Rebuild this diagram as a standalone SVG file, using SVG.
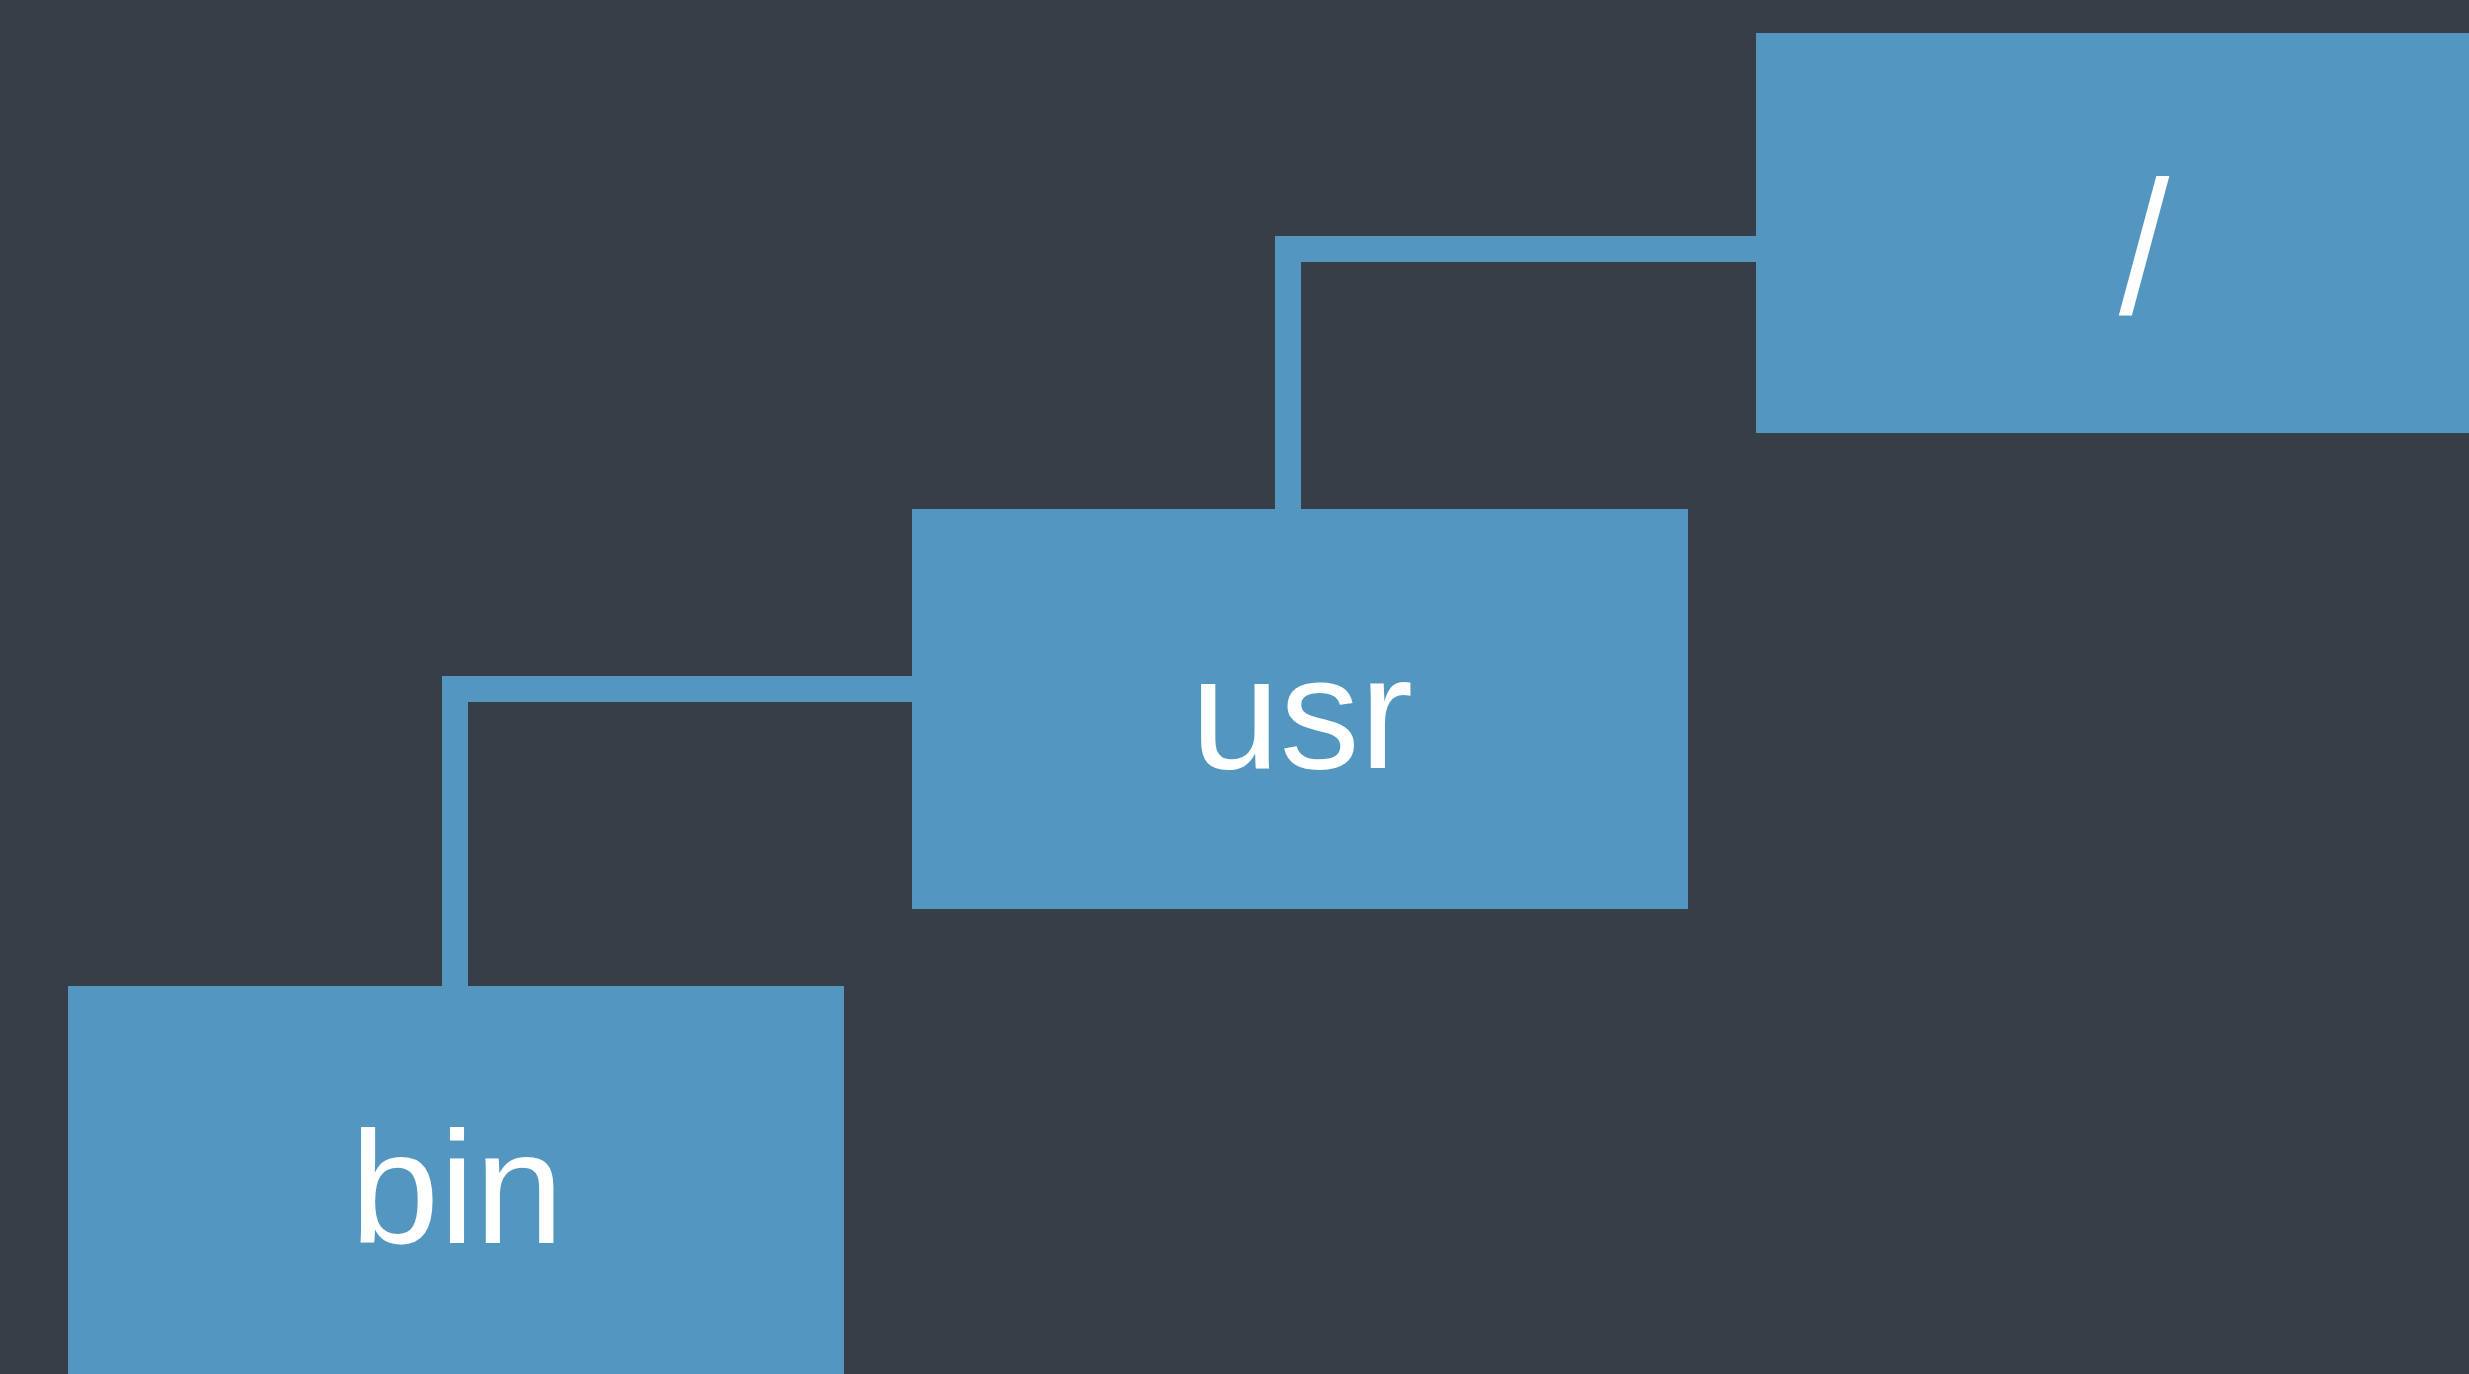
<svg xmlns="http://www.w3.org/2000/svg" width="2469" height="1374" viewBox="0 0 2469 1374">
<style>
.bg{fill:#373e47}
.node rect{fill:#5397c1}
.node text{fill:#ffffff;font-family:"Liberation Sans",Arial,sans-serif;font-size:160px;text-anchor:middle}
.conn{fill:none;stroke:#5397c1;stroke-width:26;stroke-linejoin:miter;stroke-linecap:butt}
</style>
<rect class="bg" x="0" y="0" width="2469" height="1374"/>
<g id="connectors">
<path class="conn" d="M1756 249 H1288 V509"/>
<path class="conn" d="M912 689 H455 V986"/>
</g>
<g id="node-root" class="node">
<rect x="1756" y="33" width="776" height="400"/>
<text x="2144" y="298" style="font-family:Inter,'Liberation Sans',sans-serif;font-size:160px">/</text>
</g>
<g id="node-usr" class="node">
<rect x="912" y="509" width="776" height="400"/>
<text x="1302" y="768">usr</text>
</g>
<g id="node-bin" class="node">
<rect x="68" y="986" width="776" height="400"/>
<text x="457" y="1243">bin</text>
</g>
</svg>
